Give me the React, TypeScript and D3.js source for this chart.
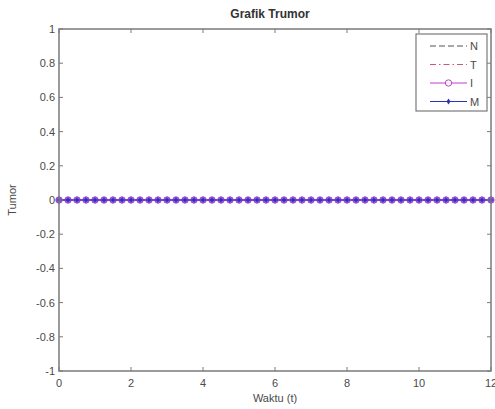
import React from 'react';
import { scaleLinear, line } from 'd3';

// time samples (about 4 per unit)
const waktu = [
  0, 0.25, 0.5, 0.75, 1, 1.25, 1.5, 1.75, 2, 2.25, 2.5, 2.75, 3, 3.25, 3.5, 3.75,
  4, 4.25, 4.5, 4.75, 5, 5.25, 5.5, 5.75, 6, 6.25, 6.5, 6.75, 7, 7.25, 7.5, 7.75,
  8, 8.25, 8.5, 8.75, 9, 9.25, 9.5, 9.75, 10, 10.25, 10.5, 10.75, 11, 11.25, 11.5,
  11.75, 12,
];
const seriesN = [
  0, 0, 0, 0, 0, 0, 0, 0, 0, 0, 0, 0, 0, 0, 0, 0, 0, 0, 0, 0, 0, 0, 0, 0, 0,
  0, 0, 0, 0, 0, 0, 0, 0, 0, 0, 0, 0, 0, 0, 0, 0, 0, 0, 0, 0, 0, 0, 0, 0,
];
const seriesT = [
  0, 0, 0, 0, 0, 0, 0, 0, 0, 0, 0, 0, 0, 0, 0, 0, 0, 0, 0, 0, 0, 0, 0, 0, 0,
  0, 0, 0, 0, 0, 0, 0, 0, 0, 0, 0, 0, 0, 0, 0, 0, 0, 0, 0, 0, 0, 0, 0, 0,
];
const seriesI = [
  0, 0, 0, 0, 0, 0, 0, 0, 0, 0, 0, 0, 0, 0, 0, 0, 0, 0, 0, 0, 0, 0, 0, 0, 0,
  0, 0, 0, 0, 0, 0, 0, 0, 0, 0, 0, 0, 0, 0, 0, 0, 0, 0, 0, 0, 0, 0, 0, 0,
];
const seriesM = [
  0, 0, 0, 0, 0, 0, 0, 0, 0, 0, 0, 0, 0, 0, 0, 0, 0, 0, 0, 0, 0, 0, 0, 0, 0,
  0, 0, 0, 0, 0, 0, 0, 0, 0, 0, 0, 0, 0, 0, 0, 0, 0, 0, 0, 0, 0, 0, 0, 0,
];
const xTicks = [0, 2, 4, 6, 8, 10, 12];
const yTicks = [1, 0.8, 0.6, 0.4, 0.2, 0, -0.2, -0.4, -0.6, -0.8, -1];
const legendNames = ['N', 'T', 'I', 'M'];

const W = 495;
const H = 409;
const left = 59;
const right = 491;
const top = 29;
const bottom = 371;
const font = 'Arial, "Liberation Sans", Helvetica, sans-serif';
const axisColor = '#7a7a7a';
const textColor = '#4a4a4a';

const App: React.FC = () => {
  const x = scaleLinear().domain([0, 12]).range([left, right]);
  const y = scaleLinear().domain([-1, 1]).range([bottom, top]);

  const path = (vals: number[]) =>
    line<number>()
      .x((_, i) => x(waktu[i]))
      .y((d) => y(d))(vals) || '';

  const series = [
    { name: 'N', vals: seriesN, color: '#555555', dash: '6,3', marker: 'none' },
    { name: 'T', vals: seriesT, color: '#c85a78', dash: '6,3,1.5,3', marker: 'none' },
    { name: 'I', vals: seriesI, color: '#c040d0', dash: '', marker: 'circle' },
    { name: 'M', vals: seriesM, color: '#3030b8', dash: '', marker: 'dot' },
  ];

  const tick = 4;
  const legX = 416;
  const legY = 34;
  const legW = 71;
  const legRow = 18.5;

  return (
    <svg
      width={W}
      height={H}
      style={{ position: 'absolute', left: 0, top: 0, background: '#fff' }}
      fontFamily={font}
    >
      <rect x={0} y={0} width={W} height={H} fill="#fff" />
      <text
        x={(left + right) / 2 - 5}
        y={18}
        textAnchor="middle"
        fontSize={12}
        fontWeight="bold"
        fill="#333"
      >
        Grafik Trumor
      </text>

      {/* data */}
      {series.map((s) => (
        <g key={s.name}>
          <path
            d={path(s.vals)}
            fill="none"
            stroke={s.color}
            strokeWidth={1.2}
            strokeDasharray={s.dash || undefined}
          />
          {s.marker === 'circle' &&
            s.vals.map((v, i) => (
              <circle
                key={i}
                cx={x(waktu[i])}
                cy={y(v)}
                r={3.2}
                fill="#9458e0"
                stroke="#a048d8"
                strokeWidth={1}
              />
            ))}
          {s.marker === 'dot' &&
            s.vals.map((v, i) => (
              <path
                key={i}
                d={`M${x(waktu[i])},${y(v) - 2.5}l2,2.5l-2,2.5l-2,-2.5z`}
                fill={s.color}
              />
            ))}
        </g>
      ))}

      {/* box */}
      <rect
        x={left}
        y={top}
        width={right - left}
        height={bottom - top}
        fill="none"
        stroke={axisColor}
        strokeWidth={1.5}
      />

      {/* x ticks */}
      {xTicks.map((t) => (
        <g key={'x' + t}>
          <line x1={x(t)} x2={x(t)} y1={bottom} y2={bottom - tick} stroke={axisColor} />
          <line x1={x(t)} x2={x(t)} y1={top} y2={top + tick} stroke={axisColor} />
          <text
            x={x(t)}
            y={bottom + 16}
            textAnchor="middle"
            fontSize={11}
            fill={textColor}
          >
            {t}
          </text>
        </g>
      ))}

      {/* y ticks */}
      {yTicks.map((t) => (
        <g key={'y' + t}>
          <line x1={left} x2={left + tick} y1={y(t)} y2={y(t)} stroke={axisColor} />
          <line x1={right} x2={right - tick} y1={y(t)} y2={y(t)} stroke={axisColor} />
          <text
            x={left - 4}
            y={y(t) + 4}
            textAnchor="end"
            fontSize={11}
            fill={textColor}
          >
            {t}
          </text>
        </g>
      ))}

      <text
        x={(left + right) / 2}
        y={bottom + 31}
        textAnchor="middle"
        fontSize={11}
        fill={textColor}
      >
        Waktu (t)
      </text>
      <text
        transform={`translate(16, ${(top + bottom) / 2}) rotate(-90)`}
        textAnchor="middle"
        fontSize={11}
        fill={textColor}
      >
        Tumor
      </text>

      {/* legend */}
      <rect
        x={legX}
        y={legY}
        width={legW}
        height={legRow * 4 + 3}
        fill="#fff"
        stroke={axisColor}
        strokeWidth={1.2}
      />
      {legendNames.map((n, i) => {
        const s = series[i];
        const ly = legY + 12 + i * legRow;
        const x1 = legX + 14;
        const x2 = legX + 51;
        return (
          <g key={n}>
            <line
              x1={x1}
              x2={x2}
              y1={ly}
              y2={ly}
              stroke={s.color}
              strokeWidth={1.2}
              strokeDasharray={s.dash || undefined}
            />
            {s.marker === 'circle' && (
              <circle
                cx={(x1 + x2) / 2}
                cy={ly}
                r={3.2}
                fill="#fff"
                stroke={s.color}
                strokeWidth={1}
              />
            )}
            {s.marker === 'dot' && (
              <path
                d={`M${(x1 + x2) / 2},${ly - 3}l2,3l-2,3l-2,-3z`}
                fill={s.color}
              />
            )}
            <text x={x2 + 3} y={ly + 4} fontSize={11} fill={textColor}>
              {n}
            </text>
          </g>
        );
      })}
    </svg>
  );
};

export default App;
